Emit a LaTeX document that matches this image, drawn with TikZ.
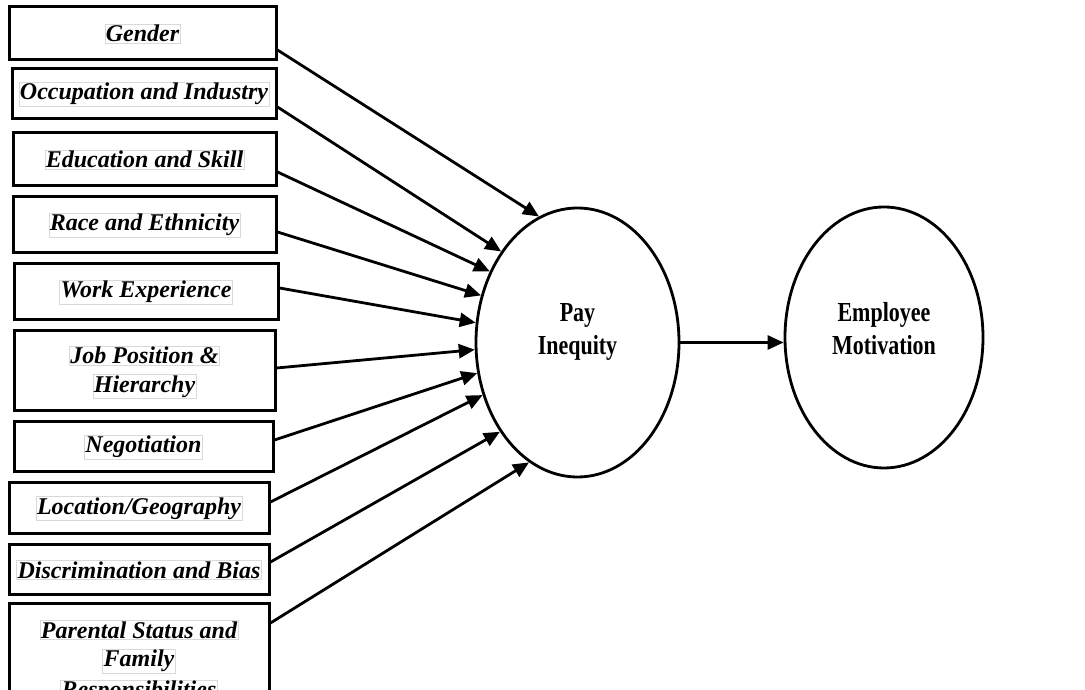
\documentclass[tikz,border=0pt]{standalone}
\usepackage{fontspec}
\setmainfont{Liberation Serif}
\newfontfamily\narrowserif[FakeStretch=0.8]{Liberation Serif}
\usetikzlibrary{arrows.meta,shapes.geometric}

\tikzset{
  factor/.style={draw, rectangle, line width=3pt, inner sep=0pt},
  word/.style={draw=black!15, line width=0.6pt, inner sep=1pt,
    font=\bfseries\itshape\fontsize{24}{31}\selectfont},
  latent/.style={draw, ellipse, line width=2.8pt, inner sep=0pt},
  bigword/.style={align=center, font=\narrowserif\bfseries\fontsize{27.5}{33}\selectfont},
  link/.style={line width=2.8pt, -{Triangle[length=16pt,width=14pt]}}
}

\begin{document}
\begin{tikzpicture}[x=1pt,y=1pt]
  \clip (0,0) rectangle (1085,690);

  % factor boxes
  \node[factor, minimum width=267pt, minimum height=53pt] (g)    at (142.5,656.5) {};
  \node[factor, minimum width=264pt, minimum height=50pt] (occ)  at (144,596) {};
  \node[factor, minimum width=263pt, minimum height=53pt] (edu)  at (144.5,530.5) {};
  \node[factor, minimum width=263pt, minimum height=56pt] (race) at (144.5,465) {};
  \node[factor, minimum width=264pt, minimum height=56pt] (work) at (146,398) {};
  \node[factor, minimum width=261pt, minimum height=80pt] (job)  at (144.5,319) {};
  \node[factor, minimum width=259pt, minimum height=50pt] (neg)  at (143.5,243) {};
  \node[factor, minimum width=260pt, minimum height=51pt] (loc)  at (139,181.5) {};
  \node[factor, minimum width=260pt, minimum height=50pt] (disc) at (139,120) {};
  \node[factor, minimum width=260pt, minimum height=114pt] (par) at (139,29) {};

  % labels
  \node[word] (g-t)    at (g)    {Gender};
  \node[word] (occ-t)  at (occ)  {Occupation and Industry};
  \node[word] (edu-t)  at (edu)  {Education and Skill};
  \node[word] (race-t) at (race) {Race and Ethnicity};
  \node[word] (work-t) at (work) {Work Experience};
  \node[word] (job-t1) at ([yshift=15.5pt]job.center)  {Job Position \&};
  \node[word] (job-t2) at ([yshift=-15.5pt]job.center) {Hierarchy};
  \node[word] (neg-t)  at (neg)  {Negotiation};
  \node[word] (loc-t)  at (loc)  {Location/Geography};
  \node[word] (disc-t) at (disc) {Discrimination and Bias};
  \node[word] (par-t1) at ([yshift=31pt]par.center)  {Parental Status and};
  \node[word] (par-t2) at (par.center)               {Family};
  \node[word] (par-t3) at ([yshift=-31pt]par.center) {Responsibilities};

  % outcomes
  \node[latent, minimum width=203pt, minimum height=269pt] (pay) at (577.5,347.5) {};
  \node[latent, minimum width=198pt, minimum height=261pt] (emp) at (884,352.5) {};
  \node[bigword] (pay-t) at (577.5,358.5) {Pay\\Inequity};
  \node[bigword] (emp-t) at (884,361.5) {Employee\\Motivation};

  % arrows
  \draw[link] ([yshift=-16.5pt]g.east) -- (pay.107);
  \draw[link] ([yshift=-13pt]occ.east) -- (pay.130);
  \draw[link] ([yshift=-12.5pt]edu.east) -- (pay.141);
  \draw[link] ([yshift=-7pt]race.east) -- (pay.154);
  \draw[link] ([yshift=4pt]work.east) -- (pay.169);
  \draw[link] ([yshift=3pt]job.east) -- (pay.184);
  \draw[link] ([yshift=7pt]neg.east) -- (pay.197);
  \draw[link] ([yshift=6.5pt]loc.east) -- (pay.209);
  \draw[link] ([yshift=8pt]disc.east) -- (pay.229);
  \draw[link] ([yshift=38pt]par.east) -- (pay.248);

  \draw[link] (pay.east) -- (pay.east -| emp.west);
\end{tikzpicture}
\end{document}
